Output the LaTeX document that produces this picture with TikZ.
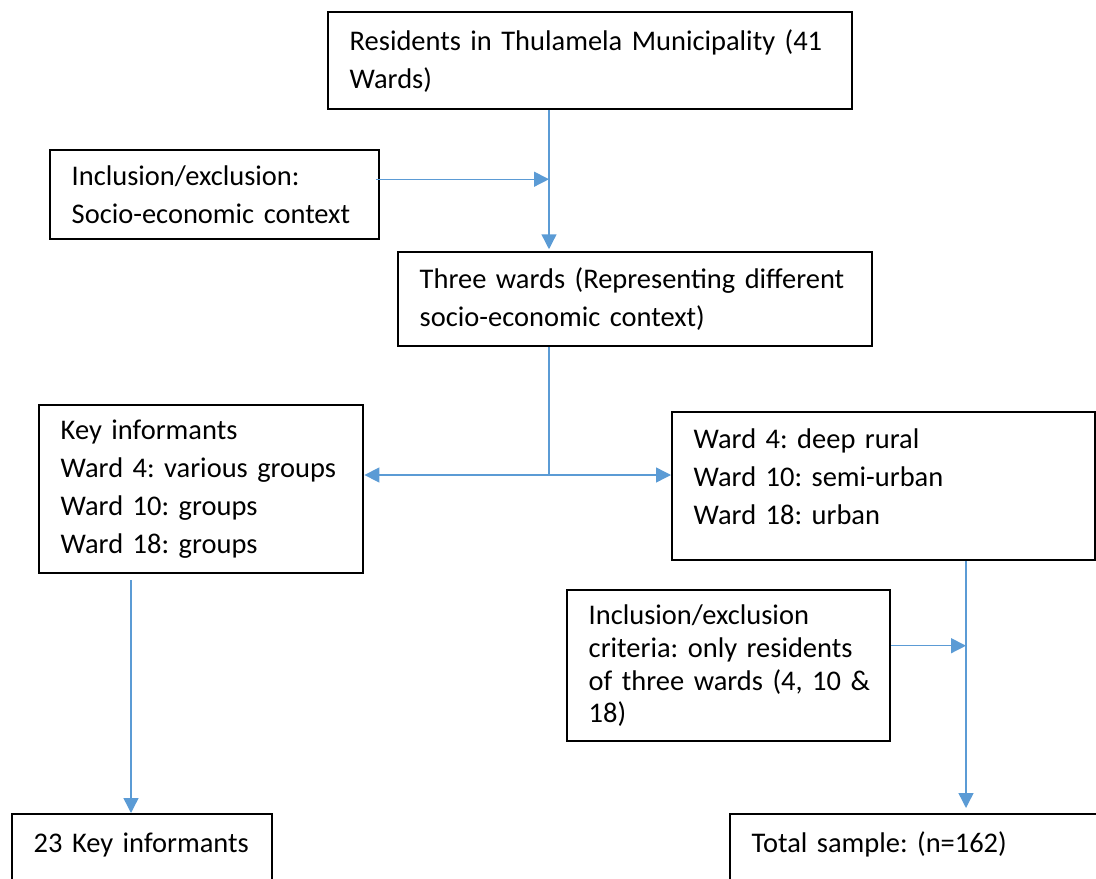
\documentclass[tikz,border=0pt]{standalone}
\usepackage{fontspec}
\setmainfont{Carlito}
\usepackage{tikz}
\usetikzlibrary{arrows.meta}
\definecolor{linkblue}{HTML}{5B9BD5}
\frenchspacing

\begin{document}
\begin{tikzpicture}[x=0.02cm, y=-0.02cm,
	box/.style={draw, line width=1.4pt, anchor=north west, align=left, inner xsep=0.43cm, inner ysep=0pt, font=\fontsize{16.2}{21.5}\selectfont},
	wire/.style={draw=linkblue, line width=0.8pt},
	link/.style={wire, -{Triangle[length=8.5pt, width=8.5pt]}},
	both/.style={wire, {Triangle[length=8.5pt, width=8.5pt]}-{Triangle[length=8.5pt, width=8.5pt]}}]

	\useasboundingbox (0,0) rectangle (1096,879);
	\clip (0,0) rectangle (1096,879);

	% Cajas de arriba
	\node[box, text width=9.62cm, minimum height=1.94cm] (top) at (327,11) {Residents in Thulamela Municipality~(41\\Wards)};
	\node[box, text width=5.72cm, minimum height=1.78cm] (incl) at (49,149) {Inclusion/exclusion:\\Socio-economic context};
	\node[box, text width=8.62cm, minimum height=1.88cm] (three) at (397,251) {Three wards (Representing different\\socio-economic context)};

	% Cajas del medio
	\node[box, text width=5.62cm, minimum height=3.36cm] (key) at (38,404) {Key informants\\Ward 4: various~groups\\Ward 10: groups\\Ward 18: groups};
	\node[box, text width=7.60cm, minimum height=2.96cm] (ward) at (671,411) {Ward 4: deep rural\\Ward 10: semi-urban\\Ward 18: urban\rule[-11pt]{0pt}{11pt}};
	\node[box, text width=5.60cm, minimum height=3.02cm, font=\fontsize{16.2}{18.7}\selectfont] (crit) at (566,589) {Inclusion/exclusion\\criteria:~only~residents\\of~three~wards~(4,~10~\&\\18)};

	% Cajas de abajo
	\node[box, text width=4.34cm, text height=22pt, text depth=2cm] (keyn) at (11,813) {23 Key~informants};
	\node[box, text width=7.36cm, text height=22pt, text depth=2cm] (total) at (729,813) {Total sample: (n=162)};

	% Puntos de las lineas
	\coordinate (trunk) at (549,0);
	\coordinate (split) at (549,475);
	\coordinate (leftline) at (131,0);
	\coordinate (rightline) at (966,0);
	\coordinate (inclout) at ([yshift=0.31cm]incl.east);
	\coordinate (critout) at ([yshift=0.4cm]crit.east);

	% Flechas
	\draw[link, shorten >=1pt] (trunk |- top.south) -- (trunk |- three.north);
	\draw[link] ([xshift=-0.08cm]inclout) -- (inclout -| trunk);
	\draw[wire] (trunk |- three.south) -- (split);
	\draw[both] (key.east |- split) -- (ward.west |- split);
	\draw[link, shorten <=0.12cm] (leftline |- key.south) -- (leftline |- keyn.north);
	\draw[link, shorten >=0.1cm] (rightline |- ward.south) -- (rightline |- total.north);
	\draw[link] (critout) -- (critout -| rightline);

\end{tikzpicture}
\end{document}
